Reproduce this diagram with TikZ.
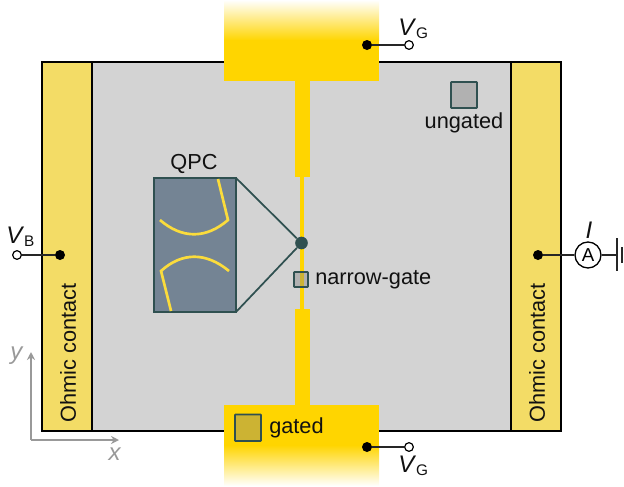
\documentclass[tikz,border=0pt]{standalone}
\usepackage{fontspec}
\setmainfont{Liberation Sans}
\usepackage{tikz}
\usetikzlibrary{arrows.meta,positioning,calc}
\definecolor{ink}{HTML}{111111}
\definecolor{chan}{HTML}{D3D3D3}
\definecolor{ohmic}{HTML}{F3DC66}
\definecolor{gold}{HTML}{FFD500}
\definecolor{slate}{HTML}{2F5050}
\definecolor{qpcfill}{HTML}{748494}
\definecolor{curve}{HTML}{FBDC3C}
\definecolor{axisc}{HTML}{999999}
\newcommand{\subV}[1]{{\fontsize{18}{20}\selectfont\textit{V}}\raisebox{-2.5pt}{\fontsize{11.5}{12}\selectfont #1}}
\tikzset{
  lbl/.style={font=\fontsize{16.3}{19}\selectfont,text=ink,inner sep=0pt},
  dot/.style={circle,fill=black,inner sep=0pt,minimum size=7.5pt},
  term/.style={circle,draw=black,fill=white,line width=0.9pt,inner sep=0pt,minimum size=6.5pt},
  wire/.style={line width=1pt,color=black!85},
  frame/.style={draw=black,line width=2.2pt},
  swatch/.style={draw=slate,line width=1.3pt,rounded corners=0.5pt,fill=black!50,fill opacity=0.4},
  qpcline/.style={line width=1.3pt,color=slate},
  qpccurve/.style={line width=2pt,color=curve},
  axisarrow/.style={-{Stealth[length=6pt,width=6pt]},line width=1.1pt,color=axisc}
}
\begin{document}
\begin{tikzpicture}[x=0.75pt,y=-0.75pt]
  \useasboundingbox (0,0) rectangle (624,486);
  % channel and contacts
  \fill[chan] (92,62) rectangle (511,431);
  \draw[frame] (42,62) rectangle (561,431);
  \draw[frame,fill=ohmic] (42,62) rectangle (92,431);
  \draw[frame,fill=ohmic] (511,62) rectangle (561,431);
  \node[lbl,rotate=90] (ohmicl) at (68,353) {Ohmic contact};
  \node[lbl,rotate=90] (ohmicr) at (537,353) {Ohmic contact};
  % gates
  \shade[top color=white,bottom color=gold] (224,0) rectangle (379,40.5);
  \fill[gold] (224,40) rectangle (379,81);
  \shade[top color=gold,bottom color=white] (224,445) rectangle (379,486);
  \fill[gold] (224,405) rectangle (379,445.5);
  \fill[gold] (295,81) rectangle (309.5,177);
  \fill[gold] (295,309) rectangle (309.5,405);
  \fill[gold] (299.5,177) rectangle (304,309);
  % zoom on the QPC
  \node[circle,fill=slate,inner sep=0pt,minimum size=9.5pt] (qpcdot) at (301.5,243) {};
  \coordinate (qpcne) at (236,178);
  \coordinate (qpcse) at (236,312);
  \draw[qpcline] (qpcne) -- (qpcdot);
  \draw[qpcline] (qpcse) -- (qpcdot);
  \draw[qpcline,fill=qpcfill] (154,178) rectangle (236,312);
  \draw[qpccurve] (160,220) .. controls (182,239) and (206,239) .. (228,220) -- (218,179);
  \draw[qpccurve] (229,271) .. controls (206,252) and (182,252) .. (161,271) -- (171,311);
  \node[lbl] (qpc) at (194,164) {QPC};
  % legend squares
  \draw[swatch] (294,272) rectangle (308,287);
  \node[lbl,anchor=west] (narrow) at (315,279.5) {narrow-gate};
  \draw[swatch] (451,82) rectangle (477,108);
  \node[lbl] (ungated) at (464,122.5) {ungated};
  \draw[swatch] (235,414.5) rectangle (261,441);
  \node[lbl,anchor=west] (gated) at (269,427.5) {gated};
  % leads
  \node[dot] (dg1) at (367,45) {};
  \node[term] (tg1) at (409,45) {};
  \draw[wire] (dg1) -- (tg1);
  \node[lbl,anchor=base west] (vg1) at (398,35) {\subV{G}};
  \node[dot] (dg2) at (367,447) {};
  \node[term] (tg2) at (409,447) {};
  \draw[wire] (dg2) -- (tg2);
  \node[lbl,anchor=base west] (vg2) at (398,472) {\subV{G}};
  \node[dot] (db) at (60,255) {};
  \node[term] (tb) at (17,255) {};
  \draw[wire] (tb) -- (db);
  \node[lbl,anchor=base west] (vb) at (6,243) {\subV{B}};
  % current meter
  \node[dot] (di) at (538,255) {};
  \node[circle,draw=black,fill=white,line width=1pt,inner sep=0pt,minimum size=19.5pt,font=\fontsize{14}{15}\selectfont] (amp) at (588,255) {A};
  \coordinate (gnd) at (617,255);
  \draw[wire] (di) -- (amp);
  \draw[wire] (amp) -- (gnd);
  \draw[wire] (617,238) -- (gnd) -- (617,271);
  \draw[wire,line width=1.6pt] (622,247) -- (622,263);
  \node[lbl,font=\fontsize{18}{20}\selectfont] (cur) at (589,230) {\textit{I}};
  % axes
  \coordinate (orig) at (31,440);
  \coordinate (ytip) at (31,352);
  \coordinate (xtip) at (119,440);
  \draw[axisarrow] (orig) -- (ytip);
  \draw[axisarrow] (orig) -- (xtip);
  \node[lbl,text=axisc,font=\fontsize{18}{20}\selectfont] (ylab) at (17,356) {\textit{y}};
  \node[lbl,text=axisc,font=\fontsize{18}{20}\selectfont] (xlab) at (115,454) {\textit{x}};
\end{tikzpicture}
\end{document}
